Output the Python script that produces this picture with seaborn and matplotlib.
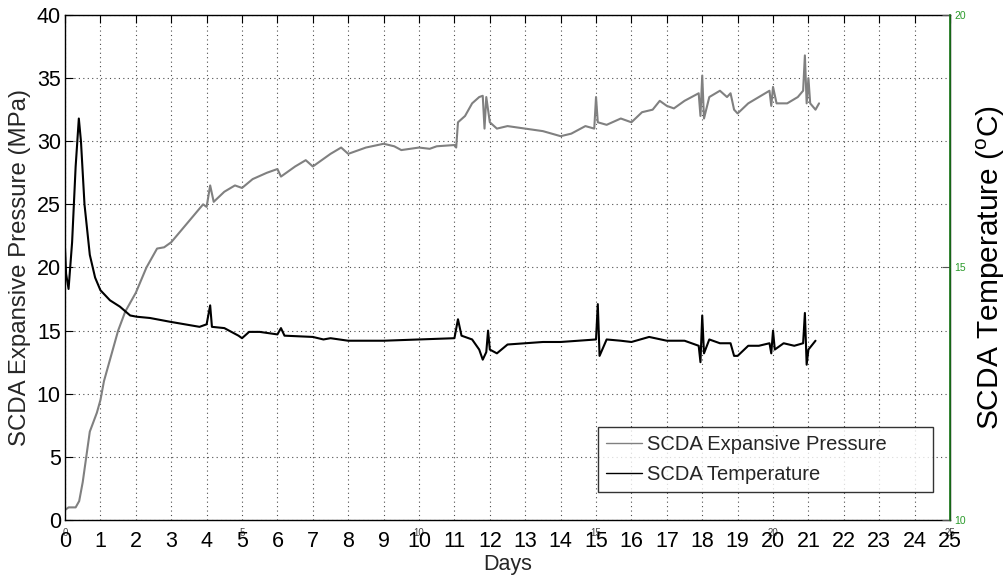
import numpy as np
import pandas as pd
import matplotlib
matplotlib.use("Agg")
import matplotlib.pyplot as plt
import seaborn as sns

# ---- data ----
p_days = [0, 0.1, 0.3, 0.4, 0.5, 0.6, 0.7, 0.9, 1.0, 1.1, 1.3, 1.5, 1.7, 2.0, 2.3, 2.6, 2.8, 3.0,
          3.3, 3.6, 3.9, 4.0, 4.1, 4.2, 4.5, 4.8, 5.0, 5.3, 5.7, 6.0, 6.1, 6.5, 6.8, 7.0, 7.5, 7.8,
          8.0, 8.5, 9.0, 9.3, 9.5, 10.0, 10.3, 10.5, 11.0, 11.05, 11.1, 11.3, 11.5, 11.7, 11.8, 11.85,
          11.9, 12.0, 12.2, 12.5, 13.0, 13.5, 14.0, 14.3, 14.7, 14.95, 15.0, 15.05, 15.3, 15.7, 16.0,
          16.3, 16.6, 16.8, 17.0, 17.2, 17.5, 17.9, 17.95, 18.0, 18.05, 18.2, 18.5, 18.7, 18.8, 18.9,
          19.0, 19.3, 19.6, 19.9, 19.95, 20.0, 20.1, 20.4, 20.7, 20.85, 20.9, 20.95, 21.0, 21.05,
          21.2, 21.3]
pressure = [0.8, 1.0, 1.0, 1.5, 3.0, 5.0, 7.0, 8.5, 9.5, 11.0, 13.0, 15.0, 16.5, 18.0, 20.0, 21.5,
            21.6, 22.0, 23.0, 24.0, 25.0, 24.8, 26.5, 25.2, 26.0, 26.5, 26.3, 27.0, 27.5, 27.8, 27.2,
            28.0, 28.5, 28.0, 29.0, 29.5, 29.0, 29.5, 29.8, 29.6, 29.3, 29.5, 29.4, 29.6, 29.7, 29.5,
            31.5, 32.0, 33.0, 33.5, 33.6, 31.0, 33.5, 31.5, 31.0, 31.2, 31.0, 30.8, 30.4, 30.6, 31.2,
            31.0, 33.5, 31.5, 31.3, 31.8, 31.5, 32.3, 32.5, 33.2, 32.8, 32.6, 33.2, 33.8, 32.0, 35.2,
            31.8, 33.5, 34.0, 33.5, 33.8, 32.5, 32.2, 33.0, 33.5, 34.0, 32.8, 34.3, 33.0, 33.0, 33.5,
            34.0, 36.8, 33.0, 35.0, 33.0, 32.5, 33.0]

t_days = [0, 0.03, 0.1, 0.2, 0.3, 0.39, 0.45, 0.55, 0.7, 0.85, 1.0, 1.27, 1.55, 1.84, 2.03, 2.4,
          2.97, 3.8, 4.0, 4.1, 4.15, 4.5, 4.9, 5.0, 5.2, 5.5, 6.0, 6.1, 6.2, 7.0, 7.3, 7.5, 8.0,
          9.0, 10.0, 11.0, 11.1, 11.2, 11.5, 11.7, 11.8, 11.9, 11.95, 12.0, 12.2, 12.5, 13.0, 13.5,
          14.0, 14.5, 15.0, 15.05, 15.1, 15.3, 15.7, 16.0, 16.5, 17.0, 17.5, 17.9, 17.95, 18.0,
          18.05, 18.2, 18.5, 18.8, 18.9, 19.0, 19.3, 19.6, 19.9, 19.95, 20.0, 20.05, 20.3, 20.6,
          20.85, 20.9, 20.95, 21.0, 21.2]
temperature = [21.5, 19.5, 18.3, 22.0, 28.0, 31.8, 30.0, 25.0, 21.0, 19.2, 18.2, 17.4, 16.9, 16.2,
               16.1, 16.0, 15.7, 15.3, 15.5, 17.0, 15.3, 15.2, 14.6, 14.4, 14.9, 14.9, 14.7, 15.2,
               14.6, 14.5, 14.3, 14.4, 14.2, 14.2, 14.3, 14.4, 15.9, 14.6, 14.3, 13.5, 12.7, 13.3,
               15.0, 13.5, 13.2, 13.9, 14.0, 14.1, 14.1, 14.2, 14.3, 17.1, 13.0, 14.3, 14.2, 14.1,
               14.5, 14.2, 14.2, 13.8, 12.5, 16.2, 13.2, 14.3, 14.0, 14.0, 13.0, 13.0, 13.8, 13.8,
               14.0, 13.2, 15.0, 13.5, 14.0, 13.8, 14.0, 16.4, 12.3, 13.5, 14.2]

x_ticks = list(range(0, 26))
x_ticks_minor = [0, 5, 10, 15, 20, 25]
y_ticks = [0, 5, 10, 15, 20, 25, 30, 35, 40]
right_ticks = [10, 15, 20]

sns.set_style("white")
plt.rcParams['font.family'] = ['Liberation Sans', 'DejaVu Sans']
plt.rcParams['mathtext.fontset'] = 'custom'
plt.rcParams['mathtext.rm'] = 'Liberation Sans'
plt.rcParams['mathtext.it'] = 'Liberation Sans'

fig = plt.figure(figsize=(10.05, 5.76), dpi=100)
ax = fig.add_axes([0.0647, 0.0972, 0.8806, 0.8768])

dfp = pd.DataFrame({"Days": p_days, "val": pressure})
dft = pd.DataFrame({"Days": t_days, "val": temperature})
sns.lineplot(data=dfp, x="Days", y="val", ax=ax, color="#808080", lw=1.5,
             label="SCDA Expansive Pressure", estimator=None, sort=False)
sns.lineplot(data=dft, x="Days", y="val", ax=ax, color="black", lw=1.5,
             label="SCDA Temperature", estimator=None, sort=False)

ax.set_xlim(0, 25)
ax.set_ylim(0, 40)
ax.set_xticks(x_ticks)
ax.set_yticks(y_ticks)
ax.tick_params(axis='both', direction='in', length=6, labelsize=15.5, colors='black',
               top=True, right=True, width=0.8)
ax.tick_params(axis='x', pad=8)
ax.tick_params(axis='y', pad=3)
ax.grid(True, linestyle=(0, (1, 3)), color='black', linewidth=0.8, alpha=0.7)
ax.set_xlabel("Days", fontsize=15.5, labelpad=1)
ax.set_ylabel("SCDA Expansive Pressure (MPa)", fontsize=17.3, labelpad=4)
for s in ax.spines.values():
    s.set_color('black')
    s.set_linewidth(1.0)

# secondary small x ticks (from the twin axes)
sec = ax.secondary_xaxis('bottom')
sec.set_xticks(x_ticks_minor)
sec.set_xticklabels([str(v) for v in x_ticks_minor])
sec.tick_params(length=0, labelsize=7, colors='#444444', pad=6)
sec.spines['bottom'].set_visible(False)

# right axis
ax2 = ax.twinx()
ax2.set_ylim(10, 20)
ax2.set_yticks(right_ticks)
ax2.tick_params(axis='y', direction='in', length=6, labelsize=7.5, colors='#2ca02c', pad=3)
for lab in ax2.get_yticklabels():
    lab.set_color('#2a9a2a')
ax2.tick_params(axis='y', color='#555555')
ax2.spines['right'].set_color('#1a7a1a')
ax2.spines['right'].set_linewidth(1.2)
for k in ['left', 'top', 'bottom']:
    ax2.spines[k].set_visible(False)
ax2.set_ylabel(r"SCDA Temperature ($^{\mathrm{o}}$C)", fontsize=21.5, labelpad=6, color='black')

leg = ax.legend(loc='lower left', bbox_to_anchor=(0.602, 0.055, 0.3785, 0.129),
                mode='expand', borderaxespad=0,
                fancybox=False, frameon=True, fontsize=14.5, handlelength=1.8,
                borderpad=0.4, labelspacing=0.55, handletextpad=0.25)
leg.get_frame().set_edgecolor('black')
leg.get_frame().set_linewidth(1.0)
for ln in leg.get_lines():
    ln.set_linewidth(1.0)

fig.savefig("out.png", dpi=100)
